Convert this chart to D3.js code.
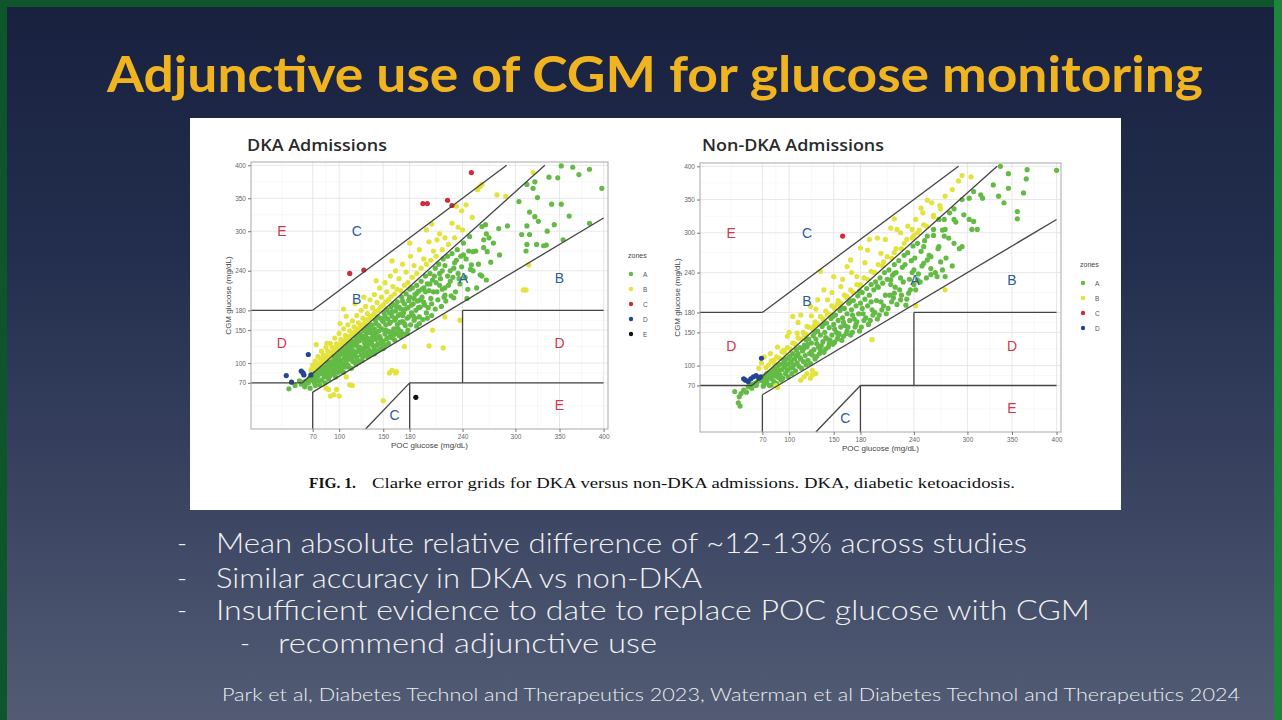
<!DOCTYPE html>
<html>
<head>
<meta charset="utf-8">
<script src="https://cdn.jsdelivr.net/npm/d3@7"></script>
<style>
  body { margin: 0; background: #1b2442; }
  svg { display: block; }
</style>
</head>
<body>
<svg id="slide" width="1282" height="720"></svg>
<script>
// ---- data (POC glucose, CGM glucose) ----
const tickVals = [70, 100, 150, 180, 240, 300, 350, 400];

const dkaA = [
  [43,61],[50,66],[57,68],[55,73],[60,71],
  [61,64],[63,73],[65,70],[66,77],[67,62],[69,74],[68,80],[62,68],
  [70,79],[71,84],[72,70],[73,76],[74,86],[76,73],[76,81],[77,89],[78,67],[79,84],[75,79],[73,66],
  [80,93],[80,74],[81,86],[82,97],[83,79],[84,90],[84,70],[85,99],[86,84],[87,93],[88,76],[88,103],[89,88],[83,82],
  [90,96],[90,81],[91,105],[92,89],[93,100],[93,110],[94,84],[95,95],[96,107],[96,79],[97,113],[98,90],[99,101],[99,86],[92,97],
  [100,111],[100,95],[101,118],[102,88],[102,104],[103,114],[104,99],[105,122],[105,86],[106,108],[107,117],[107,94],[108,103],[109,126],[109,112],[101,99],
  [110,120],[110,97],[111,130],[112,106],[112,115],[113,124],[114,92],[114,110],[115,133],[116,119],[116,102],[117,127],[118,111],[119,137],[119,98],[113,117],
  [120,130],[120,109],[121,141],[122,118],[122,101],[123,134],[124,124],[124,144],[125,112],[126,136],[126,104],[127,121],[128,149],[128,114],[129,130],[121,125],
  [130,142],[130,117],[131,153],[132,126],[132,110],[133,137],[134,156],[134,120],[135,131],[136,146],[136,113],[137,158],[138,127],[138,140],[139,118],[131,134],
  [140,152],[140,124],[141,165],[142,136],[142,118],[143,147],[144,170],[144,129],[145,157],[146,140],[146,121],[147,168],[148,133],[148,152],[149,126],[141,143],
  [150,163],[150,133],[151,176],[152,144],[152,127],[153,158],[154,181],[154,137],[155,167],[156,148],[156,130],[157,176],[158,141],[158,162],[159,185],[151,150],
  [160,171],[160,138],[161,189],[162,152],[163,165],[163,135],[164,179],[165,145],[166,193],[166,158],[167,172],[168,142],[168,185],[169,162],[161,147],
  [170,182],[170,148],[171,200],[172,163],[173,176],[173,144],[174,190],[175,157],[176,205],[177,168],[178,150],[178,184],[179,195],[172,172],
  [180,200],[181,158],[182,176],[183,214],[184,190],[185,165],[186,204],[187,180],[188,156],[188,218],[189,194],[184,172],
  [190,209],[191,170],[192,185],[193,224],[194,200],[195,166],[196,214],[197,188],[198,232],[199,176],[192,196],
  [200,220],[201,184],[203,236],[204,198],[205,172],[206,226],[207,208],[209,182],[209,244],[202,210],
  [210,222],[212,196],[213,250],[214,236],[216,186],[217,212],[218,258],[219,200],[215,228],
  [220,248],[221,194],[223,262],[224,218],[226,240],[227,202],[228,266],[229,230],
  [231,252],[232,208],[234,272],[235,236],[237,220],[238,262],[239,246],
  [241,282],[243,230],[244,258],[246,212],[247,270],[249,242],
  [81,90],[83,93],[86,80],[87,97],[90,101],[91,88],[94,104],[95,91],[97,98],[98,109],[100,104],[103,93],[104,115],[106,100],[108,118],
  [110,108],[111,94],[113,127],[115,104],[117,114],[118,129],[120,117],[121,104],[123,139],[125,120],[127,110],[128,140],[130,125],
  [132,146],[133,115],[135,151],[137,133],[139,145],[140,114],[142,160],[143,127],[145,149],[147,137],[149,165],[150,122],[152,171],
  [153,150],[155,138],[157,160],[159,147],[160,178],[162,143],[164,168],[165,186],[167,152],[169,174],[170,140],[172,194],[174,160],
  [175,182],[177,145],[179,170],[180,212],[182,188],[185,198],[186,168],[188,206],[190,184],[191,160],[194,212],[196,192],[198,208],
  [200,168],[203,220],[205,190],[208,232],[211,208],[214,218],[217,240],[220,214],[223,232],[226,224],[230,244],[233,256],[236,228],
  [252,240],[255,270],[258,250],[264,275],[262,232],[270,290],
  [352,399],[365,397],[372,386],[384,394],[398,365],[338,382],[348,381],[322,375],[313,371],[320,365],[325,351],[304,345],[341,341],[352,341],
  [361,323],[316,329],[322,322],[326,315],[313,308],[316,295],[307,295],[291,308],[281,304],[282,264],[275,282],[268,269],[272,253],[336,300],
  [344,310],[324,280],[332,278],[335,279],[313,280],[312,270],[354,287],[384,312],[267,296],[266,310],[262,307],[260,234],[267,226],[256,214],
  [245,198],[230,199],[220,203],[248,292],[252,269],[241,264],[250,249],[264,287]
];
const dkaB = [
  [68,90],[70,97],[72,92],[73,103],[75,96],[76,110],[77,99],[79,106],[80,118],[81,101],[82,112],[84,106],[85,124],[86,111],[87,118],
  [89,109],[90,130],[91,116],[92,124],[94,117],[95,138],[96,122],[97,129],[99,124],[100,145],[101,128],[102,136],[104,130],[105,152],
  [106,134],[107,142],[109,136],[110,158],[111,140],[112,149],[114,142],[115,164],[116,146],[117,155],[119,148],[120,172],[121,152],
  [122,161],[124,155],[125,180],[126,158],[127,168],[129,161],[130,186],[131,165],[132,175],[134,167],[135,196],[136,171],[138,184],
  [139,174],[140,204],[141,178],[143,192],[144,180],[146,214],[147,185],[148,200],[150,188],[152,222],[153,193],[154,208],[156,196],
  [158,232],[159,201],[161,216],[163,205],[164,240],[166,212],[168,228],[170,210],[172,250],[174,218],[176,238],[178,222],[181,262],
  [183,230],[185,248],[188,236],[191,272],[193,244],[196,258],[199,250],[202,284],[204,256],[207,270],[210,262],[214,296],[217,272],
  [220,290],[224,280],[228,312],[231,290],[235,306],[240,302],[244,340],[233,338],[239,331],[251,321],[211,287],[199,302],[205,311],
  [257,363],[262,371],[260,368],[279,355],[289,353],[320,389],[86,130],[101,160],[108,171],[105,182],[74,128],[118,190],[128,200],
  [142,225],[160,255],[180,282],
  [85,62],[90,50],[97,60],[94,52],[100,50],[88,60],[108,79],[112,67],[115,66],[150,43],[157,85],[164,85],[160,89],[165,87],[174,125],
  [202,126],[206,150],[218,123],[220,170],[237,165],[315,249],[309,211],[312,211]
];
const dkaC = [[250,389],[195,342],[200,342],[223,347],[228,339],[112,236],[128,241]];
const dkaD = [[40,81],[46,71],[57,88],[59,85],[60,82],[65,113],[68,82]];
const dkaE = [[187,48]];

const nonA = [
  [39,61],[44,53],[45,39],[43,44],[46,58],[49,63],[54,68],[58,66],[61,73],[63,70],[67,78],[52,60],[56,72],[64,75],
  [70,77],[71,83],[72,72],[73,80],[74,86],[75,75],[76,82],[77,89],[78,70],[79,85],[71,69],[75,88],
  [80,80],[81,92],[82,86],[83,76],[84,95],[85,84],[86,90],[86,73],[87,99],[88,82],[89,93],[81,71],[84,88],[88,101],
  [90,86],[91,102],[92,94],[93,81],[94,108],[95,98],[96,88],[97,110],[98,93],[99,102],[91,78],[95,104],[99,83],
  [100,112],[101,96],[102,106],[103,88],[104,118],[105,101],[106,110],[107,92],[108,124],[109,104],[101,114],[104,97],[108,115],
  [110,118],[111,99],[112,127],[113,110],[114,96],[115,122],[116,106],[117,131],[118,115],[119,101],[112,112],[116,125],[119,139],
  [120,128],[121,108],[122,140],[123,118],[124,103],[125,134],[126,116],[127,145],[128,124],[129,110],[121,132],[125,121],[129,150],
  [130,140],[131,114],[132,152],[133,128],[134,118],[135,146],[136,130],[137,159],[138,136],[139,120],[131,133],[135,124],[139,163],
  [140,150],[141,125],[142,164],[143,140],[144,128],[145,157],[146,138],[147,171],[148,146],[149,132],[141,142],[145,133],[149,174],
  [150,162],[151,135],[152,176],[153,150],[154,140],[155,168],[156,148],[157,183],[158,158],[159,138],[151,155],[155,145],[159,187],
  [160,172],[161,144],[162,186],[163,160],[164,148],[165,178],[166,158],[167,194],[168,168],[169,146],[161,165],[165,152],[169,197],
  [170,184],[171,150],[172,198],[173,170],[174,158],[175,190],[176,166],[177,205],[178,178],[179,152],[171,176],[175,162],[179,212],
  [180,194],[181,158],[182,210],[183,178],[184,168],[185,200],[186,172],[187,216],[188,190],[189,162],[182,186],
  [190,206],[191,168],[192,222],[193,184],[194,176],[195,214],[196,180],[197,226],[198,198],[199,170],[192,196],
  [200,218],[201,176],[202,232],[203,196],[204,184],[205,224],[206,190],[207,240],[208,206],[209,178],
  [210,230],[211,186],[212,244],[213,206],[215,196],[216,236],[217,202],[218,252],[219,218],[214,222],
  [220,240],[221,192],[223,258],[224,214],[226,206],[227,248],[228,226],[229,266],[225,232],
  [230,252],[232,200],[233,270],[235,230],[236,214],[237,258],[238,240],[239,280],
  [241,262],[242,214],[244,284],[245,238],[247,226],[248,272],[249,250],
  [252,288],[254,232],[257,266],[259,246],[262,296],[264,240],[267,276],[270,256],[272,304],[276,262],[279,292],[283,250],[287,316],[291,276],
  [367,395],[400,394],[366,381],[346,389],[337,400],[329,372],[346,367],[363,360],[356,332],[356,321],[341,345],[335,355],[315,357],[307,362],
  [302,352],[317,352],[294,350],[285,336],[296,327],[311,305],[305,305],[307,317],[302,320],[285,320],[274,320],[275,305],[294,279],[285,284],
  [274,295],[280,330],[268,320],[262,305],[268,279],[255,295],[251,279],[259,264],[255,259],[272,244],[266,234],[251,254],[240,244],[244,229],
  [234,209],[231,191],[240,222],[218,209],[225,199],[199,219],[214,229],[218,239],[259,237],[275,234]
];
const nonB = [
  [72,113],[79,118],[83,108],[87,128],[94,123],[98,144],[104,174],[105,134],[109,149],[113,176],[117,146],[120,159],[124,189],[128,160],
  [132,199],[135,242],[139,214],[143,199],[143,176],[150,234],[154,192],[158,219],[165,204],[165,249],[169,259],[176,234],[180,222],[180,277],
  [188,274],[195,240],[199,292],[203,269],[206,256],[214,307],[218,321],[218,270],[221,305],[229,284],[233,310],[238,305],[240,296],[242,320],
  [244,300],[248,337],[251,312],[255,349],[262,326],[269,341],[270,336],[294,386],[304,384],
  [74,97],[77,101],[80,107],[83,104],[86,113],[89,111],[92,121],[95,119],[98,127],[101,125],[104,134],[107,132],[110,142],[113,140],
  [116,150],[119,147],[122,158],[126,155],[129,166],[132,163],[135,174],[138,170],[141,182],[145,178],[148,190],[151,186],[155,198],
  [158,194],[162,206],[165,202],[169,214],[172,210],[176,222],[180,220],[184,232],[188,230],[192,242],[196,240],[200,252],[205,250],
  [210,264],[215,262],[220,276],[226,276],[232,290],[238,292],[246,304],[254,310],[262,324],
  [100,150],[110,165],[125,175],[130,185],[148,210],[160,230],[170,240],[185,255],[190,290],[208,290],[225,300],[250,330],
  [260,345],[275,355],[283,365],[290,378],[66,96],[69,104],
  [85,70],[87,67],[113,78],[117,83],[120,88],[124,81],[126,86],[126,93],[130,88],[193,139],[242,190],[275,214]
];
const nonC = [[160,295]];
const nonD = [[51,78],[54,76],[57,80],[60,83],[63,85],[66,81],[68,83],[69,111],[49,80]];

const zoneColors = { A: "#63bb45", B: "#e4e33c", C: "#cf2c3c", D: "#23468e", E: "#111111" };

// Clarke error grid boundaries
const clarkeLines = [
  [[0, 70], [175 / 3, 70]], [[175 / 3, 70], [400 / 1.2, 400]],
  [[70, 0], [70, 56]], [[70, 56], [400, 320]],
  [[0, 180], [70, 180]], [[70, 180], [290, 400]],
  [[180, 0], [180, 70]], [[180, 70], [400, 70]],
  [[240, 70], [240, 180]], [[240, 180], [400, 180]],
  [[130, 0], [180, 70]]
];
const zoneLabels = [
  ["E", 35, 300], ["C", 120, 300], ["B", 120, 197], ["A", 241, 229], ["B", 350, 229],
  ["D", 35, 130], ["D", 350, 130], ["E", 350, 36], ["C", 163, 21]
];

const svg = d3.select("#slide");
const W = 1282, H = 720;

// ---- slide background ----
const defs = svg.append("defs");
const bg = defs.append("linearGradient").attr("id", "bg")
  .attr("x1", 0).attr("y1", 0).attr("x2", 0).attr("y2", 1);
[["0%", "#18213e"], ["35%", "#232e4e"], ["70%", "#3b4562"], ["100%", "#535c74"]]
  .forEach(s => bg.append("stop").attr("offset", s[0]).attr("stop-color", s[1]));
svg.append("rect").attr("width", W).attr("height", H).attr("fill", "url(#bg)");
svg.append("rect").attr("x", 0).attr("y", 0).attr("width", W).attr("height", 7).attr("fill", "#0f552b");
svg.append("rect").attr("x", 0).attr("y", 0).attr("width", 7).attr("height", H).attr("fill", "#0f552b");
svg.append("rect").attr("x", 1274).attr("y", 0).attr("width", 8).attr("height", H).attr("fill", "#1c873c");

// title
svg.append("text")
  .attr("x", 107).attr("y", 92)
  .attr("textLength", 1096).attr("lengthAdjust", "spacingAndGlyphs")
  .style("font-family", "Lato, 'Open Sans', sans-serif").style("font-weight", 700)
  .style("font-size", "50px").attr("fill", "#f0b420")
  .text("Adjunctive use of CGM for glucose monitoring");

// white figure panel
svg.append("rect").attr("x", 190).attr("y", 118).attr("width", 931).attr("height", 392).attr("fill", "#ffffff");

function drawPanel(cfg, zones) {
  const x = d3.scaleLinear().domain([0, 405]).range([cfg.left, cfg.right]);
  const y = d3.scaleLinear().domain([0, 405]).range([cfg.bottom, cfg.top]);
  const g = svg.append("g");

  const minor = d3.pairs([0].concat(tickVals)).map(p => (p[0] + p[1]) / 2);
  g.selectAll(".gminx").data(minor).join("line")
    .attr("x1", d => x(d)).attr("x2", d => x(d)).attr("y1", cfg.top).attr("y2", cfg.bottom)
    .attr("stroke", "#f0f0f0").attr("stroke-width", 0.5);
  g.selectAll(".gminy").data(minor).join("line")
    .attr("y1", d => y(d)).attr("y2", d => y(d)).attr("x1", cfg.left).attr("x2", cfg.right)
    .attr("stroke", "#f0f0f0").attr("stroke-width", 0.5);
  g.selectAll(".gx").data(tickVals).join("line")
    .attr("x1", d => x(d)).attr("x2", d => x(d)).attr("y1", cfg.top).attr("y2", cfg.bottom)
    .attr("stroke", "#e2e2e2").attr("stroke-width", 0.8);
  g.selectAll(".gy").data(tickVals).join("line")
    .attr("y1", d => y(d)).attr("y2", d => y(d)).attr("x1", cfg.left).attr("x2", cfg.right)
    .attr("stroke", "#e2e2e2").attr("stroke-width", 0.8);

  // points
  zones.forEach(z => {
    g.selectAll(null).data(z.pts).join("circle")
      .attr("cx", d => x(d[0])).attr("cy", d => y(d[1])).attr("r", 2.6)
      .attr("fill", zoneColors[z.name]);
  });

  // grid boundaries
  const line = d3.line().x(d => x(d[0])).y(d => y(d[1]));
  g.selectAll(".cl").data(clarkeLines).join("path")
    .attr("d", line).attr("fill", "none").attr("stroke", "#444").attr("stroke-width", 1.3);

  g.selectAll(".zl").data(zoneLabels).join("text")
    .attr("x", d => x(d[1])).attr("y", d => y(d[2]))
    .attr("text-anchor", "middle").attr("dominant-baseline", "central")
    .style("font-family", "'Liberation Sans', Arial, sans-serif").style("font-size", "14px")
    .attr("fill", d => (d[0] === "D" || d[0] === "E") ? "#d2374c" : "#2e5b9f")
    .text(d => d[0]);

  // panel border
  g.append("rect").attr("x", cfg.left).attr("y", cfg.top)
    .attr("width", cfg.right - cfg.left).attr("height", cfg.bottom - cfg.top)
    .attr("fill", "none").attr("stroke", "#a8a8a8").attr("stroke-width", 1);

  // axes
  const ax = g.append("g").attr("transform", `translate(0,${cfg.bottom})`)
    .call(d3.axisBottom(x).tickValues(tickVals).tickSize(3).tickPadding(2));
  const ay = g.append("g").attr("transform", `translate(${cfg.left},0)`)
    .call(d3.axisLeft(y).tickValues(tickVals).tickSize(3).tickPadding(2));
  [ax, ay].forEach(a => {
    a.select(".domain").remove();
    a.selectAll(".tick line").attr("stroke", "#777");
    a.selectAll(".tick text").attr("fill", "#666")
      .style("font-family", "'Liberation Sans', Arial, sans-serif").style("font-size", "6.5px");
  });

  g.append("text").attr("x", (cfg.left + cfg.right) / 2).attr("y", cfg.bottom + 19)
    .attr("text-anchor", "middle").attr("fill", "#444")
    .style("font-family", "'Liberation Sans', Arial, sans-serif").style("font-size", "8px")
    .text("POC glucose (mg/dL)");
  g.append("text")
    .attr("transform", `translate(${cfg.left - 20},${(cfg.top + cfg.bottom) / 2}) rotate(-90)`)
    .attr("text-anchor", "middle").attr("fill", "#444")
    .style("font-family", "'Liberation Sans', Arial, sans-serif").style("font-size", "8px")
    .text("CGM glucose (mg/dL)");

  g.append("text").attr("x", cfg.titleX).attr("y", 151)
    .attr("textLength", cfg.titleW).attr("lengthAdjust", "spacingAndGlyphs")
    .attr("fill", "#2a2a2a")
    .style("font-family", "'Open Sans', 'Noto Sans', sans-serif").style("font-size", "17px").style("font-weight", 600)
    .text(cfg.title);

  // legend
  const lg = g.append("g").attr("transform", `translate(${cfg.legX},${cfg.legY})`);
  lg.append("text").attr("x", 0).attr("y", 0).attr("fill", "#444")
    .style("font-family", "'Liberation Sans', Arial, sans-serif").style("font-size", "7px").text("zones");
  const items = lg.selectAll(".li").data(zones).join("g")
    .attr("transform", (d, i) => `translate(0,${16 + i * 15})`);
  items.append("circle").attr("cx", 3).attr("cy", 0).attr("r", 2.2).attr("fill", d => zoneColors[d.name]);
  items.append("text").attr("x", 15).attr("y", 0).attr("dominant-baseline", "central").attr("fill", "#555")
    .style("font-family", "'Liberation Sans', Arial, sans-serif").style("font-size", "6.5px").text(d => d.name);
}

drawPanel(
  { left: 251, right: 608, top: 162, bottom: 429, title: "DKA Admissions", titleX: 247, titleW: 140, legX: 628, legY: 258 },
  [{ name: "A", pts: dkaA }, { name: "B", pts: dkaB }, { name: "C", pts: dkaC }, { name: "D", pts: dkaD }, { name: "E", pts: dkaE }]
);
drawPanel(
  { left: 700, right: 1061, top: 163, bottom: 432, title: "Non-DKA Admissions", titleX: 702, titleW: 182, legX: 1080, legY: 267 },
  [{ name: "A", pts: nonA }, { name: "B", pts: nonB }, { name: "C", pts: nonC }, { name: "D", pts: nonD }]
);

// figure caption
svg.append("text").attr("x", 309).attr("y", 488)
  .style("font-family", "'Liberation Serif', 'Times New Roman', serif").style("font-size", "15.5px")
  .style("font-weight", 700).attr("fill", "#111").text("FIG. 1.");
svg.append("text").attr("x", 372).attr("y", 488)
  .attr("textLength", 643).attr("lengthAdjust", "spacingAndGlyphs")
  .style("font-family", "'Liberation Serif', 'Times New Roman', serif").style("font-size", "15.5px").attr("fill", "#111")
  .text("Clarke error grids for DKA versus non-DKA admissions. DKA, diabetic ketoacidosis.");

// bullets
const bullets = [
  { dx: 177, tx: 216, y: 553, w: 811, t: "Mean absolute relative difference of ~12-13% across studies" },
  { dx: 177, tx: 216, y: 588, w: 486, t: "Similar accuracy in DKA vs non-DKA" },
  { dx: 177, tx: 216, y: 620, w: 874, t: "Insufficient evidence to date to replace POC glucose with CGM" },
  { dx: 240, tx: 278, y: 653, w: 379, t: "recommend adjunctive use" }
];
bullets.forEach(b => {
  svg.append("text").attr("x", b.dx).attr("y", b.y).attr("fill", "#f0f0f2")
    .style("font-family", "Lato, sans-serif").style("font-weight", 300).style("font-size", "27px").text("-");
  svg.append("text").attr("x", b.tx).attr("y", b.y).attr("fill", "#f0f0f2")
    .attr("textLength", b.w).attr("lengthAdjust", "spacingAndGlyphs")
    .style("font-family", "Lato, sans-serif").style("font-weight", 300).style("font-size", "27px").text(b.t);
});

svg.append("text").attr("x", 222).attr("y", 701).attr("fill", "#eceef2")
  .attr("textLength", 1018).attr("lengthAdjust", "spacingAndGlyphs")
  .style("font-family", "Lato, sans-serif").style("font-weight", 300).style("font-size", "18px")
  .text("Park et al, Diabetes Technol and Therapeutics 2023, Waterman et al Diabetes Technol and Therapeutics 2024");
</script>
</body>
</html>
